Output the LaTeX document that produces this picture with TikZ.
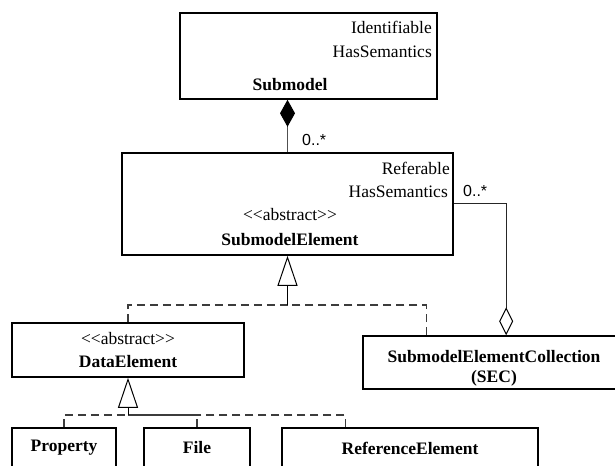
\documentclass[tikz,border=0pt]{standalone}
\usepackage{fontspec}
\setmainfont{Liberation Serif}
\setsansfont{Liberation Sans}
\usetikzlibrary{arrows.meta,positioning}
\definecolor{umlInk}{HTML}{000000}
\definecolor{umlLine}{HTML}{505050}
\definecolor{umlDash}{HTML}{3C3C3C}
\newcommand{\umlabstract}{<\kern0pt<abstract>\kern0pt>}
\tikzset{
  uml diagram/.style={x=1bp, y=-1bp, text=umlInk,
    font=\fontsize{17.5bp}{23bp}\selectfont},
  uml box/.style={draw=umlInk, fill=white, line width=1.6bp,
    inner sep=0pt, align=center},
  uml iface/.style={anchor=east, inner sep=0pt},
  uml name/.style={font=\fontsize{17.5bp}{23bp}\selectfont\bfseries, inner sep=0pt},
  uml stereo/.style={inner sep=0pt},
  uml mult/.style={font=\sffamily\fontsize{16bp}{18bp}\selectfont,
    anchor=west, inner sep=0pt},
  uml compose/.style={draw=umlLine, line width=1.1bp,
    -{Diamond[length=27bp, width=15bp, color=black]}},
  uml aggregate/.style={draw=umlInk!85, line width=1bp,
    -{Diamond[open, length=28bp, width=14bp, color=black, fill=white]}},
  uml general/.style={draw=umlInk, line width=1bp,
    -{Triangle[open, length=30bp, width=20bp, color=black, fill=white]}},
  uml realize/.style={draw=umlDash, line width=1.3bp,
    dash pattern=on 8bp off 5bp}
}
\begin{document}
\begin{tikzpicture}[uml diagram]
\useasboundingbox (0,0) rectangle (615,466);
% classes
\node[uml box, minimum width=257bp, minimum height=86bp] (sm) at (308.5,56) {};
\node[uml box, minimum width=331bp, minimum height=102bp] (sme) at (287.5,204) {};
\node[uml box, minimum width=232bp, minimum height=54bp] (de) at (128,350)
  {\umlabstract\\\textbf{DataElement}};
\node[uml box, minimum width=262bp, minimum height=53bp,
  font=\fontsize{17.5bp}{21bp}\selectfont\bfseries] (sec) at (494,362.5) {};
\node[uml box, minimum width=104bp, minimum height=40bp] (prop) at (64,448) {\textbf{Property}};
\node[uml box, minimum width=106bp, minimum height=40bp] (file) at (197,448) {\textbf{File}};
\node[uml box, minimum width=256bp, minimum height=40bp] (refel) at (410,448) {\textbf{ReferenceElement}};
% class texts
\node[uml iface] (smId) at (432,27) {Identifiable};
\node[uml iface] (smSem) at (432,52) {HasSemantics};
\node[uml name] (smName) at (290,85) {Submodel};
\node[uml iface] (smeRef) at (450,168) {Referable};
\node[uml iface] (smeSem) at (448,192) {HasSemantics};
\node[uml stereo] (smeSt) at (290,215) {\umlabstract};
\node[uml name] (smeName) at (290,240) {SubmodelElement};
\node[uml name] (secName) at (494,357) {SubmodelElementCollection};
\node[uml name] (secShort) at (494,378) {(SEC)};
% composition and aggregation
\draw[uml compose] (sme.north) -- (sme.north |- sm.south);
\node[uml mult] (mComp) at (302,140) {0..*};
\draw[uml aggregate] (sme.east) -| ([xshift=144bp]sec.north west);
\node[uml mult] (mAgg) at (463,191) {0..*};
% generalizations
\coordinate (g1) at (287.5,305);
\draw[uml realize] (de.north) |- (g1);
\draw[uml realize] ([xshift=64bp]sec.north west) |- (g1);
\draw[uml general] (g1) -- (sme.south);
\coordinate (g2) at (128,415);
\draw[uml realize] (prop.north) |- (g2);
\draw[uml realize] (file.north) |- (g2);
\draw[uml realize] ([xshift=64bp]refel.north west) |- (g2);
\draw[uml general] (g2) -- (de.south);
\end{tikzpicture}
\end{document}
